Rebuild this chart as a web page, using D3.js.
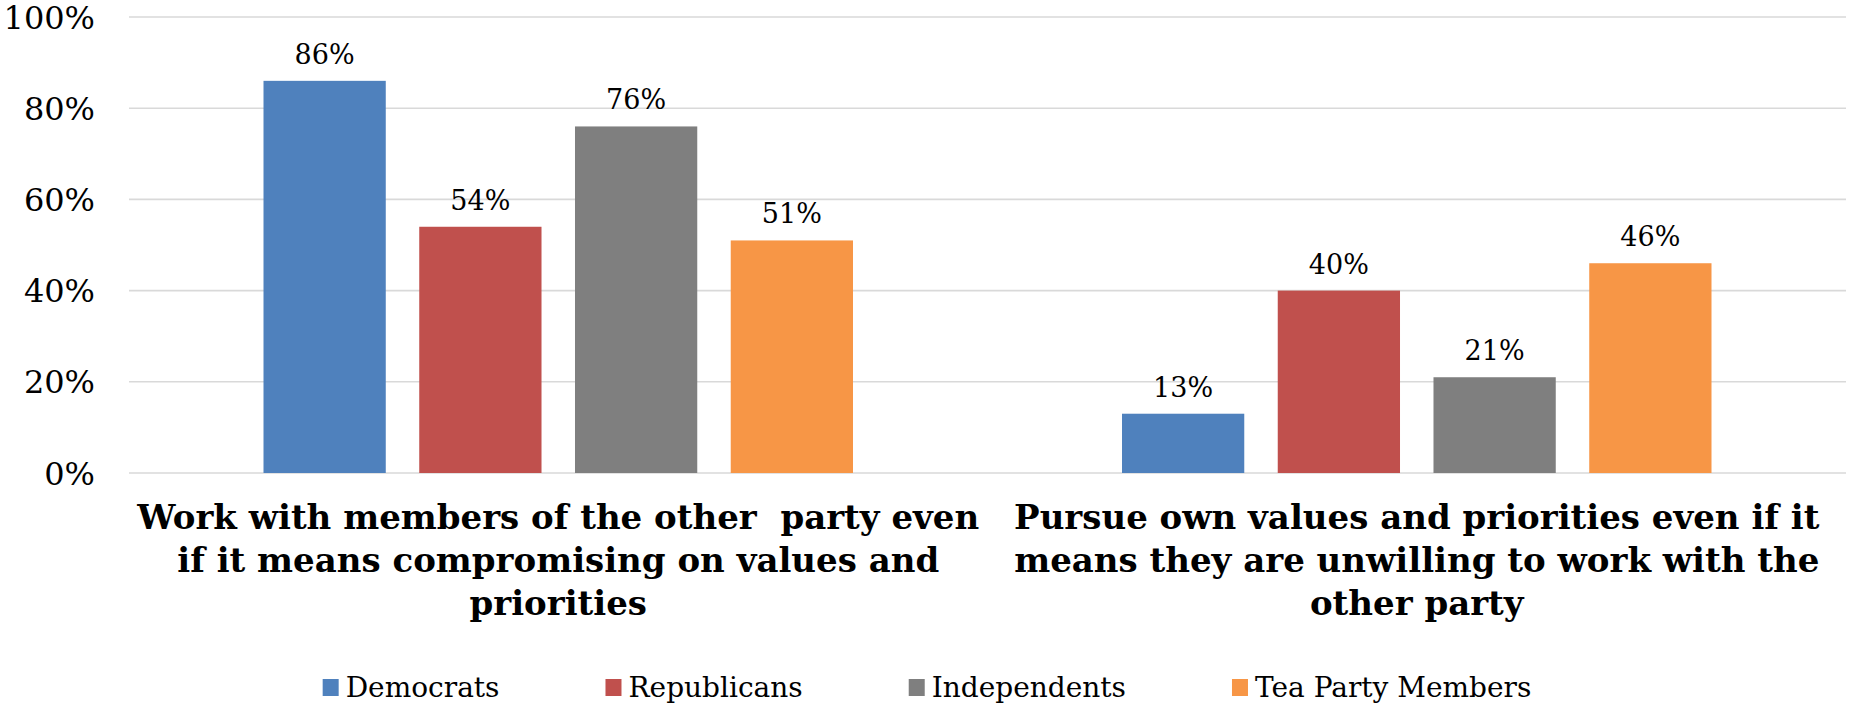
<!DOCTYPE html>
<html>
<head>
<meta charset="utf-8">
<script src="https://cdn.jsdelivr.net/npm/d3@7"></script>
<style>
  html, body { margin: 0; padding: 0; background: #fff; }
  svg { display: block; }
  text { font-family: "DejaVu Serif", Georgia, serif; }
</style>
</head>
<body>
<svg id="chart" width="1849" height="706"></svg>
<script>
// ---- data ----
const categories = [
  ["Work with members of the other  party even", "if it means compromising on values and", "priorities"],
  ["Pursue own values and priorities even if it", "means they are unwilling to work with the", "other party"]
];
const seriesNames = ["Democrats", "Republicans", "Independents", "Tea Party Members"];
const democrats = [86, 13];
const republicans = [54, 40];
const independents = [76, 21];
const teaParty = [51, 46];
const yTicks = [0, 20, 40, 60, 80, 100];
const colors = ["#4F81BD", "#C0504D", "#7F7F7F", "#F79646"];

const seriesValues = [democrats, republicans, independents, teaParty];

// ---- layout ----
const W = 1849, H = 706;
const plot = { left: 129, right: 1846, top: 17, bottom: 473 };
const svg = d3.select("#chart");

const x0 = d3.scaleBand().domain(d3.range(categories.length))
  .range([plot.left, plot.right]).padding(0);
const groupPad = 134.5;
const x1 = d3.scaleBand().domain(d3.range(seriesNames.length))
  .range([groupPad, x0.bandwidth() - groupPad]).paddingInner(0.215).paddingOuter(0);
const y = d3.scaleLinear().domain([0, 100]).range([plot.bottom, plot.top]);

// gridlines
svg.append("g").selectAll("line").data(yTicks).join("line")
  .attr("x1", plot.left).attr("x2", plot.right)
  .attr("y1", d => y(d)).attr("y2", d => y(d))
  .attr("stroke", "#D9D9D9").attr("stroke-width", 1.6);

// y tick labels
svg.append("g").selectAll("text").data(yTicks).join("text")
  .attr("x", 95).attr("y", d => y(d)).attr("dy", "0.36em")
  .attr("text-anchor", "end").attr("font-size", 32).attr("fill", "#000")
  .text(d => d + "%");

// bars
const groups = svg.append("g").selectAll("g").data(categories).join("g")
  .attr("transform", (d, i) => `translate(${x0(i)},0)`);

groups.each(function(cat, ci) {
  const g = d3.select(this);
  const vals = seriesValues.map((s, si) => ({ si, v: s[ci] }));
  g.selectAll("rect").data(vals).join("rect")
    .attr("x", d => x1(d.si)).attr("width", x1.bandwidth())
    .attr("y", d => y(d.v)).attr("height", d => y(0) - y(d.v))
    .attr("fill", d => colors[d.si]);
  g.selectAll("text.lbl").data(vals).join("text").attr("class", "lbl")
    .attr("x", d => x1(d.si) + x1.bandwidth() / 2).attr("y", d => y(d.v) - 17)
    .attr("text-anchor", "middle").attr("font-size", 27).attr("fill", "#000")
    .text(d => d.v + "%");
});

// category labels
const catG = svg.append("g");
categories.forEach((lines, ci) => {
  const t = catG.append("text")
    .attr("x", x0(ci) + x0.bandwidth() / 2)
    .attr("text-anchor", "middle").attr("font-size", 34).attr("font-weight", "bold")
    .attr("fill", "#000").style("white-space", "pre");
  lines.forEach((ln, li) => {
    t.append("tspan").attr("x", x0(ci) + x0.bandwidth() / 2)
      .attr("y", 529 + li * 43).text(ln);
  });
});

// legend
const leg = svg.append("g");
const sq = 16, sqGap = 7, itemGap = 106;
let cx = 0;
const items = seriesNames.map((name, i) => {
  const gi = leg.append("g");
  gi.append("rect").attr("x", 0).attr("y", 679).attr("width", sq).attr("height", 17).attr("fill", colors[i]);
  const tx = gi.append("text").attr("x", sq + sqGap).attr("y", 697)
    .attr("font-size", 28).attr("fill", "#000").text(name);
  const w = sq + sqGap + tx.node().getComputedTextLength();
  gi.attr("transform", `translate(${cx},0)`);
  cx += w + itemGap;
  return gi;
});
const totalW = cx - itemGap;
leg.attr("transform", `translate(${927 - totalW / 2},0)`);
</script>
</body>
</html>
